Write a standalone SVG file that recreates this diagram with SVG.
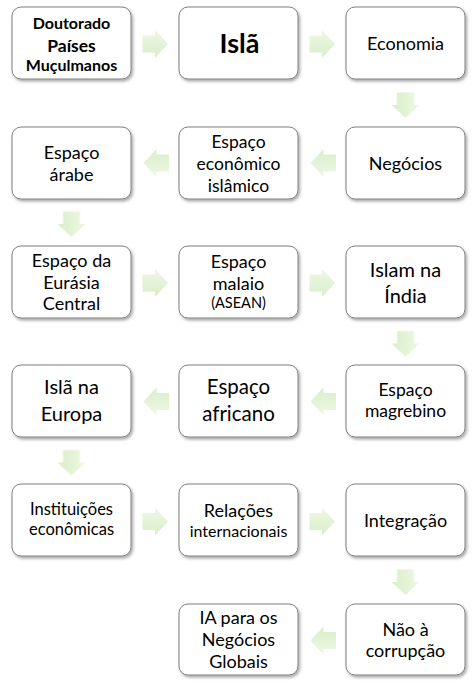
<svg xmlns="http://www.w3.org/2000/svg" xmlns:xlink="http://www.w3.org/1999/xlink" width="476" height="686" viewBox="0 0 476 686">
<defs>
<filter id="sh" x="-10%" y="-10%" width="125%" height="130%">
<feDropShadow dx="1.5" dy="2" stdDeviation="1.5" flood-color="#000" flood-opacity="0.35"/>
</filter>
<filter id="soft" x="-20%" y="-20%" width="140%" height="140%">
<feGaussianBlur stdDeviation="0.4"/>
</filter>
<linearGradient id="ag" x1="0" y1="0" x2="0" y2="1">
<stop offset="0" stop-color="#eef8e6"/>
<stop offset="1" stop-color="#d8eec8"/>
</linearGradient>
<polygon id="arr" points="-12.5,-8.5 0,-8.5 0,-14 13,0 0,14 0,8.5 -12.5,8.5" fill="url(#ag)" filter="url(#soft)"/>
</defs>
<style>
.box{fill:#fff;stroke:#7f7f7f;stroke-width:1;filter:url(#sh)}
text{font-family:Lato,"Open Sans","Liberation Sans",sans-serif;fill:#000;text-anchor:middle}
.b{font-weight:bold}
</style>
<rect width="476" height="686" fill="#fff"/>
<g id="connectors">
<use xlink:href="#arr" transform="translate(155,44)"/>
<use xlink:href="#arr" transform="translate(322,44)"/>
<use xlink:href="#arr" transform="translate(405.5,105) rotate(90)"/>
<use xlink:href="#arr" transform="translate(323.5,163) rotate(180)"/>
<use xlink:href="#arr" transform="translate(156.5,163) rotate(180)"/>
<use xlink:href="#arr" transform="translate(71.5,224) rotate(90)"/>
<use xlink:href="#arr" transform="translate(155,283)"/>
<use xlink:href="#arr" transform="translate(322,283)"/>
<use xlink:href="#arr" transform="translate(405.5,343.5) rotate(90)"/>
<use xlink:href="#arr" transform="translate(323.5,401.5) rotate(180)"/>
<use xlink:href="#arr" transform="translate(156.5,401.5) rotate(180)"/>
<use xlink:href="#arr" transform="translate(71.5,462.5) rotate(90)"/>
<use xlink:href="#arr" transform="translate(155,521.5)"/>
<use xlink:href="#arr" transform="translate(322,521.5)"/>
<use xlink:href="#arr" transform="translate(405.5,582) rotate(90)"/>
<use xlink:href="#arr" transform="translate(323.5,640.5) rotate(180)"/>
</g>
<g id="n1"><rect class="box" x="12" y="7" width="119" height="72" rx="9"/>
<text class="b" x="71.5" y="29" font-size="16">Doutorado</text>
<text class="b" x="71.5" y="52" font-size="17.5">Países</text>
<text class="b" x="71.5" y="71" font-size="16">Muçulmanos</text></g>
<g id="n2"><rect class="box" x="179" y="7" width="119" height="72" rx="9"/>
<text class="b" x="239.5" y="53" font-size="27">Islã</text></g>
<g id="n3"><rect class="box" x="346" y="7" width="119" height="72" rx="9"/>
<text x="405.5" y="50" font-size="18">Economia</text></g>
<g id="n4"><rect class="box" x="346" y="127" width="119" height="72" rx="9"/>
<text x="405.5" y="170" font-size="18">Negócios</text></g>
<g id="n5"><rect class="box" x="179" y="127" width="119" height="72" rx="9"/>
<text x="238.5" y="148" font-size="17.5">Espaço</text>
<text x="238.5" y="170" font-size="17.5">econômico</text>
<text x="238.5" y="192" font-size="17.5">islâmico</text></g>
<g id="n6"><rect class="box" x="12" y="127" width="119" height="72" rx="9"/>
<text x="71.5" y="159" font-size="18">Espaço</text>
<text x="71.5" y="181" font-size="18">árabe</text></g>
<g id="n7"><rect class="box" x="12" y="246" width="119" height="72" rx="9"/>
<text x="71.5" y="267" font-size="18">Espaço da</text>
<text x="71.5" y="288.5" font-size="18">Eurásia</text>
<text x="71.5" y="310" font-size="18">Central</text></g>
<g id="n8"><rect class="box" x="179" y="246" width="119" height="72" rx="9"/>
<text x="238.5" y="268" font-size="18">Espaço</text>
<text x="238.5" y="290" font-size="18">malaio</text>
<text x="238.5" y="308" font-size="14.5">(ASEAN)</text></g>
<g id="n9"><rect class="box" x="346" y="246" width="119" height="72" rx="9"/>
<text x="405.5" y="277" font-size="20">Islam na</text>
<text x="405.5" y="303" font-size="20">Índia</text></g>
<g id="n10"><rect class="box" x="346" y="365" width="119" height="72" rx="9"/>
<text x="405.5" y="396" font-size="17.5">Espaço</text>
<text x="405.5" y="417" font-size="17.5">magrebino</text></g>
<g id="n11"><rect class="box" x="179" y="365" width="119" height="72" rx="9"/>
<text x="238.5" y="394" font-size="20.5">Espaço</text>
<text x="238.5" y="421" font-size="20.5">africano</text></g>
<g id="n12"><rect class="box" x="12" y="365" width="119" height="72" rx="9"/>
<text x="71.5" y="394" font-size="20">Islã na</text>
<text x="71.5" y="421" font-size="20">Europa</text></g>
<g id="n13"><rect class="box" x="12" y="484" width="119" height="72" rx="9"/>
<text x="71.5" y="515" font-size="16.5">Instituições</text>
<text x="71.5" y="535" font-size="16.5">econômicas</text></g>
<g id="n14"><rect class="box" x="179" y="484" width="119" height="72" rx="9"/>
<text x="238.5" y="517" font-size="18">Relações</text>
<text x="238.5" y="537" font-size="16">internacionais</text></g>
<g id="n15"><rect class="box" x="346" y="484" width="119" height="72" rx="9"/>
<text x="405.5" y="527" font-size="18">Integração</text></g>
<g id="n16"><rect class="box" x="346" y="604" width="119" height="71" rx="9"/>
<text x="405.5" y="636" font-size="18">Não à</text>
<text x="405.5" y="657" font-size="18">corrupção</text></g>
<g id="n17"><rect class="box" x="179" y="604" width="119" height="71" rx="9"/>
<text x="238.5" y="624" font-size="18">IA para os</text>
<text x="238.5" y="646" font-size="18">Negócios</text>
<text x="238.5" y="668" font-size="18">Globais</text></g>
</svg>
